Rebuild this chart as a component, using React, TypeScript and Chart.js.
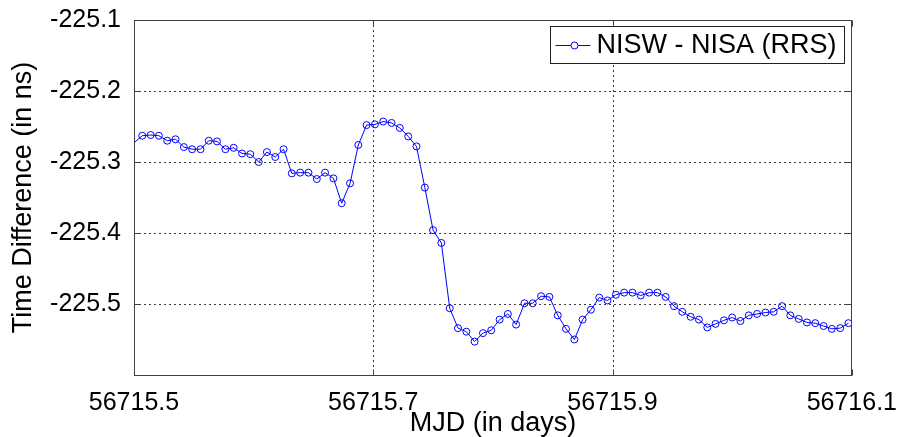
import React, { useEffect, useRef } from 'react';
import { Chart, registerables } from 'chart.js';

Chart.register(...registerables);

// MJD sample times (10-minute sampling)
const mjd = [
  56715.5, 56715.5069, 56715.5139, 56715.5208, 56715.5278, 56715.5347, 56715.5417, 56715.5486, 56715.5556, 56715.5625,
  56715.5694, 56715.5764, 56715.5833, 56715.5903, 56715.5972, 56715.6042, 56715.6111, 56715.6181, 56715.625, 56715.6319,
  56715.6389, 56715.6458, 56715.6528, 56715.6597, 56715.6667, 56715.6736, 56715.6806, 56715.6875, 56715.6944, 56715.7014,
  56715.7083, 56715.7153, 56715.7222, 56715.7292, 56715.7361, 56715.7431, 56715.75, 56715.7569, 56715.7639, 56715.7708,
  56715.7778, 56715.7847, 56715.7917, 56715.7986, 56715.8056, 56715.8125, 56715.8194, 56715.8264, 56715.8333, 56715.8403,
  56715.8472, 56715.8542, 56715.8611, 56715.8681, 56715.875, 56715.8819, 56715.8889, 56715.8958, 56715.9028, 56715.9097,
  56715.9167, 56715.9236, 56715.9306, 56715.9375, 56715.9444, 56715.9514, 56715.9583, 56715.9653, 56715.9722, 56715.9792,
  56715.9861, 56715.9931, 56716.0, 56716.0069, 56716.0139, 56716.0208, 56716.0278, 56716.0347, 56716.0417, 56716.0486,
  56716.0556, 56716.0625, 56716.0694, 56716.0764, 56716.0833, 56716.0903, 56716.0972,
];

// NISW - NISA (RRS) time difference in ns
const timeDiff = [
  -225.273, -225.263, -225.262, -225.263, -225.270, -225.268, -225.279, -225.282, -225.282, -225.270,
  -225.271, -225.282, -225.280, -225.288, -225.289, -225.300, -225.286, -225.293, -225.282, -225.316,
  -225.315, -225.315, -225.324, -225.315, -225.323, -225.358, -225.330, -225.276, -225.248, -225.247,
  -225.243, -225.245, -225.252, -225.264, -225.278, -225.336, -225.396, -225.414, -225.506, -225.534,
  -225.539, -225.553, -225.541, -225.537, -225.522, -225.514, -225.529, -225.499, -225.499, -225.489,
  -225.490, -225.516, -225.535, -225.550, -225.522, -225.508, -225.491, -225.495, -225.487, -225.484,
  -225.484, -225.488, -225.484, -225.484, -225.490, -225.503, -225.511, -225.518, -225.522, -225.533,
  -225.528, -225.523, -225.519, -225.524, -225.516, -225.514, -225.512, -225.511, -225.503, -225.516,
  -225.521, -225.526, -225.527, -225.531, -225.535, -225.534, -225.527,
];

const seriesLabel = 'NISW - NISA (RRS)';
const xTickValues = [56715.5, 56715.7, 56715.9, 56716.1];
const xTickLabels = ['56715.5', '56715.7', '56715.9', '56716.1'];
const yTickValues = [-225.6, -225.5, -225.4, -225.3, -225.2, -225.1];
const yTickLabels = ['', '-225.5', '-225.4', '-225.3', '-225.2', '-225.1'];
const xTitle = 'MJD (in days)';
const yTitle = 'Time Difference (in ns)';

const FONT = '"Liberation Sans", Arial, Helvetica, sans-serif';
const BLUE = '#0000ff';

export default function App() {
  const ref = useRef<HTMLCanvasElement>(null);

  useEffect(() => {
    const canvas = ref.current;
    if (!canvas) return;

    const decor = {
      id: 'matlabDecor',
      beforeDatasetsDraw(chart: any) {
        const { ctx, chartArea: a, scales } = chart;
        const x = scales.x;
        const y = scales.y;
        ctx.save();
        ctx.strokeStyle = '#3a3a3a';
        ctx.lineWidth = 1;
        ctx.setLineDash([2, 3]);
        ctx.beginPath();
        for (const v of xTickValues) {
          const px = Math.round(x.getPixelForValue(v)) + 0.5;
          if (px <= a.left + 2 || px >= a.right - 2) continue;
          ctx.moveTo(px, a.top);
          ctx.lineTo(px, a.bottom);
        }
        for (const v of yTickValues) {
          const py = Math.round(y.getPixelForValue(v)) + 0.5;
          if (py <= a.top + 2 || py >= a.bottom - 2) continue;
          ctx.moveTo(a.left, py);
          ctx.lineTo(a.right, py);
        }
        ctx.stroke();
        ctx.restore();
      },
      afterDatasetsDraw(chart: any) {
        const { ctx, chartArea: a, scales } = chart;
        const x = scales.x;
        const y = scales.y;
        const L = Math.floor(a.left) + 0.5;
        const T = Math.floor(a.top) + 0.5;
        const R = Math.floor(a.right) + 0.5;
        const B = Math.floor(a.bottom) + 0.5;
        ctx.save();
        ctx.setLineDash([]);
        ctx.strokeStyle = '#404040';
        ctx.lineWidth = 1;
        ctx.strokeRect(L, T, R - L, B - T);
        ctx.beginPath();
        const tl = 6;
        for (const v of yTickValues) {
          const py = Math.round(y.getPixelForValue(v)) + 0.5;
          ctx.moveTo(L, py); ctx.lineTo(L + tl, py);
          ctx.moveTo(R, py); ctx.lineTo(R - tl, py);
        }
        for (const v of xTickValues) {
          const px = Math.round(x.getPixelForValue(v)) + 0.5;
          ctx.moveTo(px, B); ctx.lineTo(px, B - tl);
          ctx.moveTo(px, T); ctx.lineTo(px, T + tl);
        }
        ctx.stroke();

        // legend box
        ctx.font = `27px ${FONT}`;
        const tw = ctx.measureText(seriesLabel).width;
        const boxW = Math.round(46 + tw + 8);
        const boxH = 37;
        const bx = Math.floor(a.right - 7 - boxW) + 0.5;
        const by = Math.floor(a.top + 6) + 0.5;
        ctx.fillStyle = '#ffffff';
        ctx.fillRect(bx, by, boxW, boxH);
        ctx.strokeStyle = '#202020';
        ctx.strokeRect(bx, by, boxW, boxH);
        const cy = by + boxH / 2;
        ctx.strokeStyle = BLUE;
        ctx.beginPath();
        ctx.moveTo(bx + 5, Math.round(cy) + 0.5);
        ctx.lineTo(bx + 40, Math.round(cy) + 0.5);
        ctx.stroke();
        ctx.beginPath();
        ctx.arc(bx + 24, Math.round(cy) + 0.5, 3.5, 0, Math.PI * 2);
        ctx.fillStyle = '#ffffff';
        ctx.fill();
        ctx.stroke();
        ctx.fillStyle = '#000000';
        ctx.textBaseline = 'middle';
        ctx.textAlign = 'left';
        ctx.fillText(seriesLabel, bx + 46, cy + 1);
        ctx.restore();
      },
    };

    const chart = new Chart(canvas, {
      type: 'line',
      data: {
        datasets: [
          {
            label: seriesLabel,
            data: mjd.map((t, i) => ({ x: t, y: timeDiff[i] })),
            borderColor: BLUE,
            borderWidth: 1,
            backgroundColor: 'rgba(0,0,0,0)',
            pointBackgroundColor: 'rgba(0,0,0,0)',
            pointBorderColor: BLUE,
            pointBorderWidth: 1,
            pointRadius: (c: any) => (c.raw && c.raw.x <= xTickValues[0] ? 0 : 3.5),
            tension: 0,
            fill: false,
          },
        ],
      },
      options: {
        animation: false,
        responsive: false,
        devicePixelRatio: 1,
        layout: { padding: { top: 19, right: 48, bottom: 0, left: 0 } },
        plugins: {
          legend: { display: false },
          tooltip: { enabled: false },
        },
        scales: {
          x: {
            type: 'linear',
            min: xTickValues[0],
            max: xTickValues[xTickValues.length - 1],
            afterBuildTicks: (s: any) => {
              s.ticks = xTickValues.map((v) => ({ value: v }));
            },
            afterFit: (s: any) => {
              s.height = 62;
            },
            grid: { display: false },
            border: { display: false },
            ticks: {
              autoSkip: false,
              maxRotation: 0,
              minRotation: 0,
              padding: 5,
              color: '#000000',
              font: { family: FONT, size: 25 },
              callback: (_v: any, i: number) => xTickLabels[i],
            },
            title: {
              display: true,
              text: xTitle,
              color: '#000000',
              font: { family: FONT, size: 27, lineHeight: 1 },
              padding: { top: 0, bottom: 0 },
            },
          },
          y: {
            type: 'linear',
            min: yTickValues[0],
            max: yTickValues[yTickValues.length - 1],
            afterBuildTicks: (s: any) => {
              s.ticks = yTickValues.map((v) => ({ value: v }));
            },
            afterFit: (s: any) => {
              s.width = 134;
            },
            grid: { display: false },
            border: { display: false },
            ticks: {
              autoSkip: false,
              padding: 5,
              color: '#000000',
              font: { family: FONT, size: 25 },
              callback: (_v: any, i: number) => yTickLabels[i],
            },
            title: {
              display: true,
              text: yTitle,
              color: '#000000',
              font: { family: FONT, size: 27, lineHeight: 1 },
              padding: { top: 10, bottom: 0 },
            },
          },
        },
      },
      plugins: [decor],
    } as any);

    return () => chart.destroy();
  }, []);

  return (
    <div style={{ position: 'fixed', left: 0, top: 0, width: 902, height: 437, background: '#ffffff' }}>
      <canvas ref={ref} width={902} height={437} style={{ width: 902, height: 437, display: 'block' }} />
    </div>
  );
}
